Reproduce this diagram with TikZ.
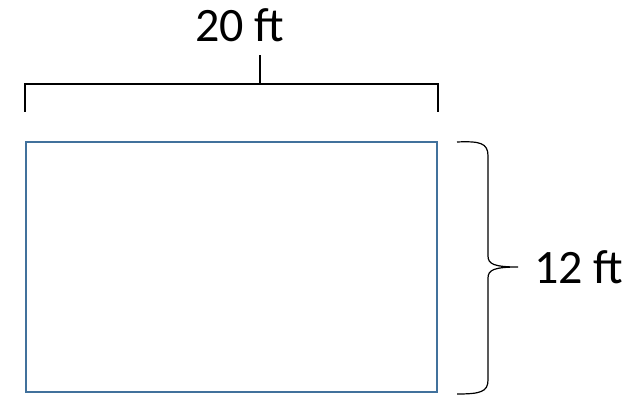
\documentclass[tikz,border=0pt]{standalone}
\usepackage{fontspec}
\setmainfont{Carlito}
\definecolor{rectblue}{HTML}{41719C}
\begin{document}
\begin{tikzpicture}[x=0.75pt,y=-0.75pt,
  dimline/.style={draw=black,line width=0.9pt},
  lbl/.style={font=\fontsize{36}{40}\selectfont,inner sep=0pt,text=black},
  roombox/.style={draw=rectblue,line width=1.6pt,fill=white,minimum width=308.25pt,minimum height=187.5pt,inner sep=0pt}]
\useasboundingbox (0,0) rectangle (634,395);
\node[roombox] (room) at (231.5,267) {};
\node[lbl,anchor=base] (top) at (240,42) {20 ft};
\node[lbl,anchor=base west] (side) at (534,283) {12 ft};
% top bracket
\coordinate (bl) at (25,112);
\coordinate (br) at (438,112);
\coordinate (bm) at (260,84);
\coordinate (bt) at (260,55);
\draw[dimline] (bl) -- (25,84) -- (438,84) -- (br);
\draw[dimline] (bm) -- (bt);
% right brace
\coordinate (rt) at (457,142);
\coordinate (rb) at (457,394);
\coordinate (tip) at (518,267);
\draw[dimline] (rt) .. controls (480,141) and (488,143) .. (488,156)
  -- (488,256) .. controls (488,264) and (494,267) .. (tip)
  (tip) .. controls (494,267) and (488,270) .. (488,278)
  -- (488,380) .. controls (488,392) and (480,394) .. (rb);
\end{tikzpicture}
\end{document}
